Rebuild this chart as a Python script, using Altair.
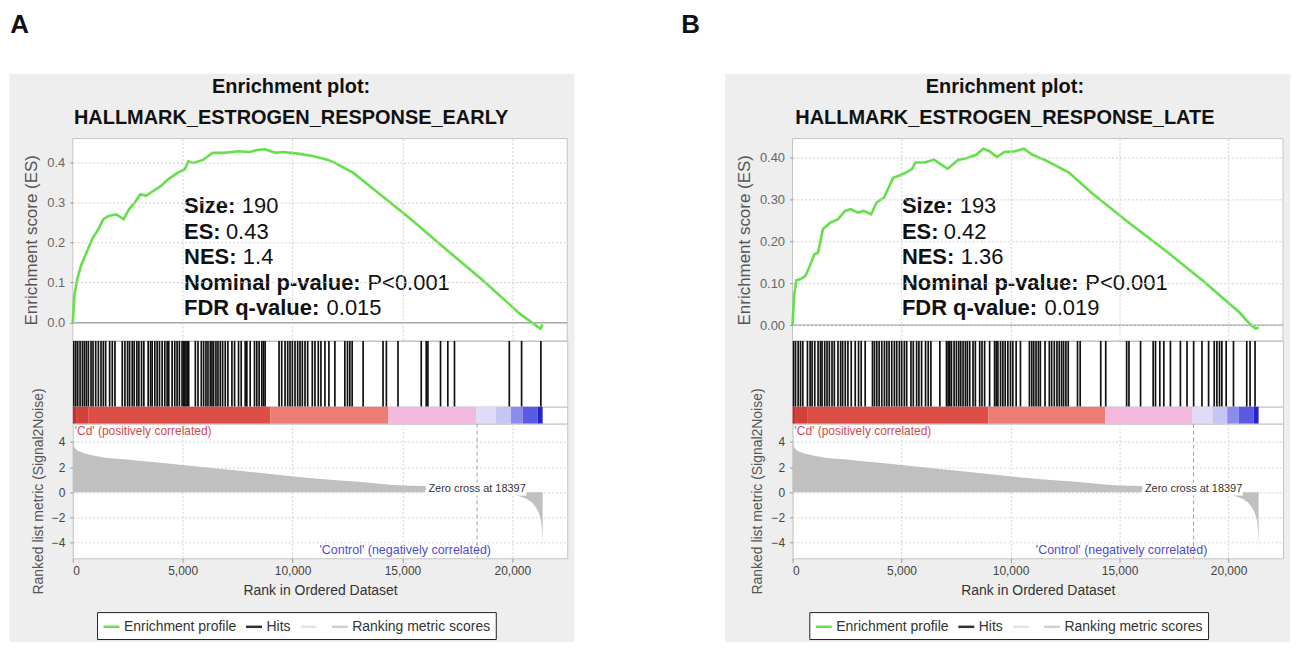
import altair as alt
import pandas as pd

# ---------------- data ----------------
ES_RANK_A = [0, 70, 205, 373, 626, 880, 1166, 1385, 1637, 1974, 2313, 2565, 2817, 3070, 3324,
             3660, 4000, 4335, 4757, 5093, 5261, 5515, 5937, 6358, 6863, 7537, 8041, 8381, 8752,
             9224, 9560, 10236, 10912, 11583, 11923, 12766, 13606, 15293, 16980, 18667, 20349,
             21279, 21380]
ES_VAL_A = [0.0, 0.068, 0.109, 0.142, 0.175, 0.208, 0.233, 0.258, 0.266, 0.270, 0.258, 0.283,
            0.299, 0.320, 0.316, 0.328, 0.340, 0.357, 0.373, 0.382, 0.402, 0.398, 0.406, 0.423,
            0.423, 0.427, 0.425, 0.430, 0.432, 0.423, 0.425, 0.421, 0.415, 0.406, 0.398, 0.373,
            0.336, 0.262, 0.183, 0.105, 0.022, -0.015, -0.004]

ES_RANK_B = [0, 70, 173, 374, 597, 799, 1004, 1174, 1393, 1735, 2073, 2411, 2667, 3005, 3260,
             3603, 3854, 4196, 4621, 5046, 5466, 5640, 6064, 6489, 7114, 7589, 8014, 8439, 8745,
             9033, 9371, 9713, 10220, 10613, 10987, 11663, 12682, 13700, 15400, 17098, 18797,
             20491, 21036, 21260, 21380]
ES_VAL_B = [0.0, 0.071, 0.107, 0.110, 0.118, 0.142, 0.169, 0.173, 0.229, 0.244, 0.252, 0.272,
            0.276, 0.268, 0.272, 0.264, 0.292, 0.304, 0.351, 0.359, 0.371, 0.387, 0.387, 0.394,
            0.372, 0.393, 0.398, 0.406, 0.420, 0.414, 0.400, 0.412, 0.414, 0.420, 0.406, 0.391,
            0.363, 0.316, 0.245, 0.178, 0.107, 0.031, 0.0, -0.008, -0.005]

HITS_A = [44, 135, 225, 331, 437, 528, 618, 709, 830, 921, 1042, 1163, 1284, 1389, 1495, 1676,
          1797, 1918, 2251, 2372, 2493, 2584, 2704, 2795, 2916, 3007, 3128, 3233, 3430, 3536,
          3611, 3732, 3838, 3944, 4065, 4186, 4292, 4367, 4519, 4640, 4745, 4851, 4972, 5048,
          5093, 5153, 5214, 5274, 5576, 5697, 5848, 5954, 6060, 6151, 6257, 6332, 6408, 6514,
          6605, 6711, 6817, 6937, 7058, 7240, 7361, 7542, 7663, 7845, 7920, 8071, 8268, 8373,
          8479, 8600, 8676, 8751, 9386, 9507, 9658, 9779, 9885, 9991, 10112, 10233, 10339,
          10445, 10566, 10687, 10898, 11019, 11170, 11291, 11473, 11654, 11926, 12379, 12500,
          12606, 12712, 13211, 14118, 14269, 14798, 15856, 16083, 16158, 16733, 17065, 17368,
          19863, 20422, 21299]

HITS_B = [44, 135, 257, 364, 470, 683, 805, 896, 1018, 1170, 1277, 1353, 1475, 1581, 1688,
          1810, 1916, 2084, 2205, 2297, 2418, 2540, 2692, 2875, 3027, 3149, 3332, 3667, 3758,
          3864, 3971, 4093, 4214, 4321, 4428, 4550, 4671, 4778, 4900, 5006, 5128, 5235, 5432,
          5539, 5691, 5797, 5919, 6102, 6224, 6346, 6757, 7061, 7137, 7213, 7289, 7411, 7518,
          7624, 7716, 7822, 7929, 8020, 8127, 8279, 8386, 8584, 8690, 8811, 9040, 9268, 9344,
          9420, 9542, 9648, 9755, 9877, 9998, 10105, 10257, 10455, 10866, 10972, 11064, 11170,
          11277, 11368, 11581, 11779, 11886, 12008, 12129, 12236, 12342, 12434, 12540, 12647,
          13073, 13195, 14138, 14367, 15326, 15432, 15965, 16543, 16650, 16848, 17031, 17335,
          17792, 18096, 18400, 18781, 19085, 19344, 19466, 19587, 19694, 19892, 20227, 20836,
          20988, 21216]

METRIC_RANK = [0, 50, 100, 230, 500, 980, 1500, 2000, 2490, 3000, 4000, 4990, 6000, 7000, 8000,
               9000, 10040, 11000, 12000, 13000, 14430, 15000, 16000, 17000, 18000, 18397, 19000,
               19600, 20200, 20640, 20900, 21090, 21200, 21315, 21360, 21380]
METRIC_VAL = [4.0, 3.7, 3.5, 3.3, 3.1, 2.9, 2.75, 2.66, 2.6, 2.52, 2.35, 2.18, 2.0, 1.82, 1.64,
              1.45, 1.26, 1.1, 0.96, 0.84, 0.6, 0.55, 0.5, 0.4, 0.25, 0.0, -0.05, -0.1, -0.24,
              -0.5, -0.8, -1.24, -1.6, -2.3, -3.3, -4.6]

CB_START = [0, 150, 700, 8980, 14345, 18351, 19258, 19938, 20467, 21148]
CB_END = [150, 700, 8980, 14345, 18351, 19258, 19938, 20467, 21148, 21380]
CB_COLOR = ["#c2302a", "#d2403a", "#dc4e46", "#ec7c74", "#f2b8de", "#dedcf8",
            "#c6c6f4", "#8c8cee", "#5a5ae2", "#2424c8"]

ZERO_CROSS = 18397
CONTROL_LABEL_END = 19030
X_TICKS = [0, 5000, 10000, 15000, 20000]
ES_TICKS_A = [0.0, 0.1, 0.2, 0.3, 0.4]
ES_TICKS_B = [0.0, 0.05, 0.10, 0.15, 0.20, 0.25, 0.30, 0.35, 0.40]
METRIC_TICKS = [-4, -2, 0, 2, 4]

STAT_LABELS = ["Size:", "ES:", "NES:", "Nominal p-value:", "FDR q-value:"]
STAT_VALUES_A = ["190", "0.43", "1.4", "P<0.001", "0.015"]
STAT_VALUES_B = ["193", "0.42", "1.36", "P<0.001", "0.019"]
GENESET_A = "HALLMARK_ESTROGEN_RESPONSE_EARLY"
GENESET_B = "HALLMARK_ESTROGEN_RESPONSE_LATE"

LEGEND_NAMES = ["Enrichment profile", "Hits", " ", "Ranking metric scores"]
LEGEND_COLORS = ["#66e04a", "#333333", "#e4e4e4", "#d0d0d0"]

# ---------------- layout constants ----------------
X_DOMAIN = [0, 22500]
METRIC_DOMAIN = [-5.24, 5.455]
ES_H = 203
HITS_H = 66
CB_H = 17
MET_H = 135
VALUE_DX = [58, 42, 59, 184, 143]
FONT = "Liberation Sans"
ONE = pd.DataFrame({"k": [0]})


def text_layer(txt, x, y, size, weight="normal", align="left", baseline="middle", color="#111"):
    return alt.Chart(ONE).mark_text(
        text=txt, fontSize=size, fontWeight=weight, align=align, baseline=baseline, color=color
    ).encode(x=alt.value(x), y=alt.value(y))


def panel(letter, letter_x, geneset, title_cx, es_rank, es_val, es_ticks, es_fmt, es_domain,
          hits, stat_values, stat_x, width, box_left, box_right, legend_x):
    xsc = alt.Scale(domain=X_DOMAIN, nice=False, zero=False)
    ysc = alt.Scale(domain=es_domain, nice=False, zero=False)

    bg = alt.Chart(ONE).mark_rect(color="#eeeeee").encode(
        x=alt.value(box_left), x2=alt.value(box_right), y=alt.value(-65), y2=alt.value(505))
    plot_bg = alt.Chart(ONE).mark_rect(fill="white", stroke="#c4c4c4", strokeWidth=1).encode(
        x=alt.value(0), x2=alt.value(width), y=alt.value(0), y2=alt.value(ES_H))

    df_es = pd.DataFrame({"rank": es_rank, "es": es_val, "series": LEGEND_NAMES[0]})
    line = alt.Chart(df_es).mark_line(strokeWidth=2.6).encode(
        x=alt.X("rank:Q", scale=xsc,
                axis=alt.Axis(values=X_TICKS[1:], labels=False, ticks=False, domain=False,
                              grid=True, gridDash=[2, 2], gridColor="#d0d0d0", title=None,
                              zindex=1)),
        y=alt.Y("es:Q", scale=ysc,
                axis=alt.Axis(values=es_ticks, format=es_fmt, grid=True, gridDash=[2, 2],
                              gridColor="#d0d0d0", domain=False, tickSize=3, tickColor="#999",
                              labelColor="#666", labelFontSize=13, labelPadding=5,
                              labelOverlap=False,
                              title="Enrichment score (ES)", titleFontSize=17,
                              titleFontWeight="normal", titleColor="#555", titlePadding=6,
                              zindex=1)),
        stroke=alt.Stroke("series:N",
                          scale=alt.Scale(domain=LEGEND_NAMES, range=LEGEND_COLORS),
                          legend=alt.Legend(orient="none", legendX=legend_x, legendY=475,
                                            direction="horizontal", title=None,
                                            symbolType="stroke", symbolSize=256,
                                            symbolStrokeWidth=2.5, labelFontSize=14,
                                            labelColor="#333", labelOffset=3, labelLimit=260,
                                            columnPadding=4, padding=5, fillColor="white",
                                            strokeColor="#222")),
    )
    zero = alt.Chart(ONE).mark_rule(color="#a8a8a8", strokeWidth=1.5).encode(y=alt.datum(0.0))

    layers = [bg, plot_bg, zero, line,
              text_layer(letter, letter_x, -126.5, 26, "bold", baseline="top"),
              text_layer("Enrichment plot:", title_cx, -46, 20, "bold", "center", "alphabetic"),
              text_layer(geneset, title_cx, -15, 20, "bold", "center", "alphabetic")]
    for i, (lab, val) in enumerate(zip(STAT_LABELS, stat_values)):
        yy = 67.6 + 25.7 * i
        layers.append(text_layer(lab, stat_x, yy, 22, "bold"))
        layers.append(text_layer(val, stat_x + VALUE_DX[i], yy, 22, "normal"))
    es_chart = alt.layer(*layers).properties(width=width, height=ES_H)

    hits_chart = alt.Chart(pd.DataFrame({"rank": hits})).mark_rule(
        color="#111111", strokeWidth=1.7
    ).encode(x=alt.X("rank:Q", scale=xsc, axis=None)).properties(width=width, height=HITS_H)

    df_cb = pd.DataFrame({"start": CB_START, "end": CB_END, "col": CB_COLOR})
    cb_chart = alt.Chart(df_cb).mark_rect().encode(
        x=alt.X("start:Q", scale=xsc, axis=None), x2="end:Q",
        y=alt.value(0), y2=alt.value(CB_H),
        fill=alt.Fill("col:N", scale=None),
    ).properties(width=width, height=CB_H)

    msc = alt.Scale(domain=METRIC_DOMAIN, nice=False, zero=False)
    df_m = pd.DataFrame({"rank": METRIC_RANK, "m": METRIC_VAL})
    area = alt.Chart(df_m).mark_area(color="#c0c0c0").encode(
        x=alt.X("rank:Q", scale=xsc,
                axis=alt.Axis(values=X_TICKS, format=",.0f", labelFontSize=12,
                              labelColor="#444", tickSize=4, tickColor="#999", domain=False,
                              grid=True, gridDash=[2, 2], gridColor="#d4d4d4", labelPadding=3,
                              title="Rank in Ordered Dataset", titleFontSize=14,
                              titleFontWeight="normal", titleColor="#333", titlePadding=7)),
        y=alt.Y("m:Q", scale=msc,
                axis=alt.Axis(values=METRIC_TICKS, format="d",
                              labelFontSize=12, labelColor="#444", tickSize=3, tickColor="#999",
                              labelPadding=5, labelOverlap=False, labelBound=False,
                              domain=False, grid=True,
                              gridDash=[2, 2], gridColor="#d4d4d4",
                              title="Ranked list metric (Signal2Noise)", titleFontSize=14,
                              titleFontWeight="normal", titleColor="#555", titlePadding=6)),
        y2=alt.datum(0),
    )

    # pixel offset of a metric value inside the panel (for annotation text)
    def my(v):
        return (METRIC_DOMAIN[1] - v) / (METRIC_DOMAIN[1] - METRIC_DOMAIN[0]) * MET_H

    zc_rule = alt.Chart(ONE).mark_rule(color="#a0a0a0", strokeDash=[4, 3]).encode(
        x=alt.datum(ZERO_CROSS))
    zc_halo = alt.Chart(ONE).mark_text(
        text="Zero cross at %d" % ZERO_CROSS, fontSize=11, stroke="white", strokeWidth=7,
        color="white", align="center", baseline="middle"
    ).encode(x=alt.datum(ZERO_CROSS), y=alt.value(my(0.3)))
    zc_text = alt.Chart(ONE).mark_text(
        text="Zero cross at %d" % ZERO_CROSS, fontSize=11, color="#333",
        align="center", baseline="middle"
    ).encode(x=alt.datum(ZERO_CROSS), y=alt.value(my(0.3)))
    cd_text = text_layer("'Cd' (positively correlated)", 2, 7, 12, "normal", color="#d24c4c")
    ctrl_text = alt.Chart(ONE).mark_text(
        text="'Control' (negatively correlated)", fontSize=12.5, color="#4c4cd2",
        align="right", baseline="middle"
    ).encode(x=alt.datum(CONTROL_LABEL_END), y=alt.value(my(-4.58)))
    met_chart = alt.layer(area, zc_rule, zc_halo, zc_text, cd_text, ctrl_text).properties(
        width=width, height=MET_H)

    return alt.vconcat(es_chart, hits_chart, cb_chart, met_chart, spacing=0,
                       bounds="flush").resolve_scale(x="independent", y="independent")


panel_a = panel("A", -62.7, GENESET_A, 219, ES_RANK_A, ES_VAL_A, ES_TICKS_A, ".1f",
                [-0.0454, 0.4585], HITS_A, STAT_VALUES_A, 111.6, 496, -63.7, 503.3, 24.3)
panel_b = panel("B", -111.7, GENESET_B, 213, ES_RANK_B, ES_VAL_B, ES_TICKS_B, ".2f",
                [-0.0372, 0.444], HITS_B, STAT_VALUES_B, 109.7, 492, -67.7, 499.3, 16.8)

chart = alt.hconcat(panel_a, panel_b, spacing=105).resolve_scale(
    x="independent", y="independent", stroke="independent"
).resolve_legend(stroke="independent").properties(
    padding={"top": 3, "left": 0, "right": 0, "bottom": 0}, background="white"
).configure(font=FONT).configure_view(
    fill="white", stroke="#c4c4c4"
).configure_axisY(labelOverlap=False)

chart.save("out.html", embed_options={"renderer": "svg", "actions": False})
